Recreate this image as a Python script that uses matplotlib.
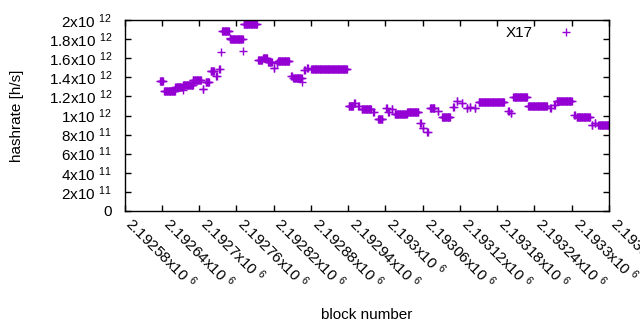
import numpy as np
import matplotlib
matplotlib.use("Agg")
import matplotlib.pyplot as plt

plt.rcParams['font.family'] = ['Liberation Sans', 'DejaVu Sans']
plt.rcParams['mathtext.fontset'] = 'custom'
plt.rcParams['mathtext.rm'] = 'Liberation Sans'
plt.rcParams['mathtext.it'] = 'Liberation Sans'

# hashrate plateaus: first block, last block, value (x1e12 h/s)
seg_start = [2192637, 2192644, 2192662, 2192674, 2192674, 2192690, 2192706, 2192711,
             2192719, 2192728, 2192732, 2192735, 2192737, 2192750, 2192750, 2192771,
             2192772, 2192795, 2192803, 2192811, 2192820, 2192825, 2192827, 2192848,
             2192852, 2192866, 2192869, 2192874, 2192881, 2192941, 2192950, 2192956,
             2192962, 2192980, 2192988, 2193001, 2193005, 2193010, 2193015, 2193035,
             2193056, 2193060, 2193067, 2193072, 2193084, 2193091, 2193109, 2193115,
             2193123, 2193131, 2193136, 2193144, 2193150, 2193198, 2193202, 2193206,
             2193230, 2193265, 2193272, 2193276, 2193304, 2193308, 2193332, 2193337,
             2193343]
seg_end = [2192642, 2192661, 2192672, 2192674, 2192690, 2192703, 2192707, 2192716,
           2192724, 2192729, 2192733, 2192735, 2192748, 2192750, 2192770, 2192771,
           2192793, 2192801, 2192809, 2192817, 2192821, 2192826, 2192845, 2192849,
           2192865, 2192866, 2192870, 2192875, 2192938, 2192948, 2192951, 2192957,
           2192977, 2192981, 2192995, 2193002, 2193006, 2193011, 2193034, 2193053,
           2193057, 2193061, 2193068, 2193079, 2193085, 2193104, 2193110, 2193116,
           2193124, 2193132, 2193137, 2193145, 2193191, 2193199, 2193203, 2193228,
           2193260, 2193266, 2193273, 2193300, 2193305, 2193329, 2193333, 2193338,
           2193360]
seg_value = [1.36, 1.26, 1.30, 1.27, 1.32, 1.37, 1.28, 1.35,
             1.47, 1.41, 1.49, 1.66, 1.89, 1.81, 1.80, 1.675,
             1.955, 1.58, 1.605, 1.56, 1.50, 1.55, 1.57, 1.41,
             1.39, 1.35, 1.48, 1.50, 1.484, 1.10, 1.128, 1.096,
             1.068, 1.04, 0.965, 1.08, 1.04, 1.068, 1.016, 1.034,
             0.918, 0.87, 0.83, 1.075, 1.047, 0.988, 1.09, 1.15,
             1.128, 1.08, 1.09, 1.08, 1.138, 1.05, 1.03, 1.19,
             1.10, 1.075, 1.11, 1.15, 1.01, 0.98, 0.90, 0.918,
             0.90]

x_ticks = [2192580 + 60 * k for k in range(14)]
y_ticks = [0, 2e11, 4e11, 6e11, 8e11, 1e12, 1.2e12, 1.4e12, 1.6e12, 1.8e12, 2e12]
y_labels = ["0", "2x10 $^{11}$", "4x10 $^{11}$", "6x10 $^{11}$", "8x10 $^{11}$",
            "1x10 $^{12}$", "1.2x10 $^{12}$", "1.4x10 $^{12}$", "1.6x10 $^{12}$",
            "1.8x10 $^{12}$", "2x10 $^{12}$"]

blocks = []
rates = []
for s, e, v in zip(seg_start, seg_end, seg_value):
    for b in range(s, e + 1):
        blocks.append(b)
        rates.append(v * 1e12)

fig = plt.figure(figsize=(6.4, 3.3), dpi=100)
ax = fig.add_axes([124.5 / 640, 1 - 211 / 330, (609 - 124.5) / 640, 191 / 330])

ax.plot(blocks, rates, '+', color='#9400d3', ms=6, mew=1, label='X17')

ax.set_xlim(2192580, 2193360)
ax.set_ylim(0, 2e12)
ax.set_xticks(x_ticks)
ax.set_xticklabels(["%gx10 $^{6}$" % (t / 1e6) for t in x_ticks],
                   rotation=-45, ha='left', va='baseline', rotation_mode='anchor')
ax.set_yticks(y_ticks)
ax.set_yticklabels(y_labels)
ax.tick_params(direction='in', top=True, right=True, length=4, width=1,
               labelsize=11, colors='black')
ax.tick_params(axis='x', pad=10)
ax.tick_params(axis='y', pad=9)
for sp in ax.spines.values():
    sp.set_linewidth(1)

ax.set_xlabel('block number', fontsize=11)
ax.set_ylabel('hashrate [h/s]', fontsize=11)
ax.xaxis.set_label_coords(0.5, -0.51)
ax.yaxis.set_label_coords(-0.207, 0.5)

ax.legend(loc='upper right', bbox_to_anchor=(0.968, 1.0), frameon=False,
          markerfirst=False, handlelength=2.8, handletextpad=0.8,
          borderaxespad=0, fontsize=11, numpoints=1)

fig.savefig('out.png', dpi=100)
